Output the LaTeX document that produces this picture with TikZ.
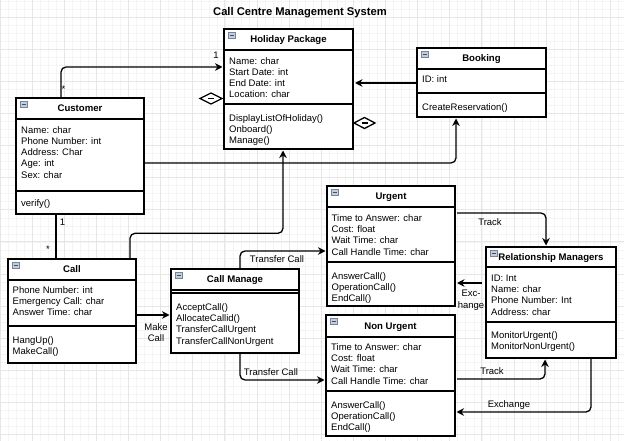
\documentclass[tikz,border=0pt]{standalone}
\usepackage{fontspec}
\setmainfont{Liberation Sans}
\usetikzlibrary{arrows.meta,calc}
\definecolor{gmin}{HTML}{F4F4F4}
\definecolor{gmaj}{HTML}{E6E6E6}
\definecolor{iconfill}{HTML}{C3CEDC}
\definecolor{iconline}{HTML}{74849A}

\newcommand\umlclass[8]{%
  \node[cls, minimum width=#4-#2, minimum height=#5-#3] (#1) at (#2,#3) {};
  \draw[line width=1.4pt] (#2,#6) -- (#4,#6);
  \draw[line width=1.4pt] (#2,#7) -- (#4,#7);
  \node[ttl] (#1-title) at ({(#2+#4)/2},{(#3+#6)/2+3.4}) {#8};
  \draw[fill=iconfill, draw=iconline, line width=0.4pt] (#2+4,#3+3) rectangle ++(7,6);
  \draw[iconline!60!black, line width=0.6pt] (#2+5.5,#3+6) -- ++(4,0);
}
\newcommand\ulines[4]{%
  \foreach \t [count=\i from 0] in {#4} {\node[txt] (#1-\i) at (#2,{#3+3.4+\i*11.2}) {\t};}%
}

\begin{document}
\begin{tikzpicture}[x=1pt,y=-1pt,
  cls/.style={draw, line width=1.4pt, anchor=north west, inner sep=0pt, outer sep=0pt, rectangle, fill=white},
  conn/.style={line width=1.3pt, rounded corners=5pt},
  arr/.style={conn, -{Stealth[length=7.5pt,width=7.5pt]}},
  txt/.style={font=\fontsize{9.5}{11.3}\selectfont, inner sep=0pt, anchor=base west},
  ttl/.style={font=\bfseries\fontsize{9.6}{11}\selectfont, inner sep=0pt, anchor=base},
  lbl/.style={font=\fontsize{9.5}{11}\selectfont, inner sep=0pt, anchor=base}]
\useasboundingbox (0,0) rectangle (624,441);
\fill[white] (0,0) rectangle (624,441);
% grid
\foreach \k in {0,...,78} \draw[gmin, line width=0.5pt] ({\k*8.03},0) -- ({\k*8.03},441);
\foreach \k in {0,...,54} \draw[gmin, line width=0.5pt] (0,{0.94+\k*8.03}) -- (624,{0.94+\k*8.03});
\foreach \k in {0,...,19} \draw[gmaj, line width=0.7pt] ({\k*32.12},0) -- ({\k*32.12},441);
\foreach \k in {0,...,13} \draw[gmaj, line width=0.7pt] (0,{17+\k*32.12}) -- (624,{17+\k*32.12});

\node[font=\bfseries\fontsize{11.2}{13}\selectfont, inner sep=0pt, anchor=base] (title) at (300,16) {Call Centre Management System};

% classes
\umlclass{hol}{224}{29}{353}{149}{50}{104}{Holiday Package}
\ulines{hol-a}{229}{61}{Name: char, Start Date: int, End Date: int, Location: char}
\ulines{hol-m}{229}{118}{DisplayListOfHoliday(), Onboard(), Manage()}

\umlclass{book}{417}{48}{546}{117}{69}{93}{Booking}
\ulines{book-a}{422}{79}{ID: int}
\ulines{book-m}{422}{107}{CreateReservation()}

\umlclass{cust}{16}{98}{144}{214}{119}{191}{Customer}
\ulines{cust-a}{21}{130}{Name: char, Phone Number: int, Address: Char, Age: int, Sex: char}
\ulines{cust-m}{21}{203}{verify()}

\umlclass{call}{8}{259}{136}{363}{280}{326}{Call}
\ulines{call-a}{12.5}{290}{Phone Number: int, Emergency Call: char, Answer Time: char}
\ulines{call-m}{12.5}{340}{HangUp(), MakeCall()}

\umlclass{cm}{171}{269}{299}{353}{290}{293}{Call Manage}
\ulines{cm-m}{176}{307}{AcceptCall(), AllocateCallid(), TransferCallUrgent, TransferCallNonUrgent}

\umlclass{urg}{327}{186}{455}{306}{207}{262}{Urgent}
\ulines{urg-a}{331.5}{218}{Time to Answer: char, Cost: float, Wait Time: char, Call Handle Time: char}
\ulines{urg-m}{331.5}{276}{AnswerCall(), OperationCall(), EndCall()}

\umlclass{nu}{326}{315}{455}{436}{337}{391}{Non Urgent}
\ulines{nu-a}{331}{347}{Time to Answer: char, Cost: float, Wait Time: char, Call Handle Time: char}
\ulines{nu-m}{331}{405}{AnswerCall(), OperationCall(), EndCall()}

\umlclass{rm}{486}{247}{616}{358}{267}{322}{Relationship Managers}
\ulines{rm-a}{491}{278}{ID: Int, Name: char, Phone Number: Int, Address: char}
\ulines{rm-m}{491}{335}{MonitorUrgent(), MonitorNonUrgent()}

% connectors
\draw[arr] ($(cust.north west)+(45,-0.7)$) |- ($(hol.north west)+(-1.5,38)$);
\draw[arr] ($(cust.north east)+(0.7,65)$) -| ($(book.south west)+(39,1.5)$);
\draw[arr] ($(call.north west)+(122,-0.7)$) -- ++(0,-25) -| ($(hol.south west)+(59,1.5)$);
\draw[conn] ($(cust.south west)+(40,0.7)$) -- ($(call.north west)+(48,-0.7)$);
\draw[arr] ($(book.north west)+(-0.7,35)$) -- ($(hol.north east)+(2,54)$);
\draw[arr] ($(call.north east)+(0.7,56)$) -- ($(cm.north west)+(-1.5,46)$);
\draw[arr] ($(cm.north west)+(69,-0.7)$) |- ($(urg.north west)+(-1.5,65)$);
\draw[arr] ($(cm.south west)+(69,0.7)$) |- ($(nu.north west)+(-1.5,65)$);
\draw[arr] ($(urg.north east)+(2,27)$) -| ($(rm.north west)+(60,-1.5)$);
\draw[arr] ($(rm.north west)+(-4,36)$) -- ($(urg.north east)+(2,97)$);
\draw[arr] ($(nu.north east)+(2,64)$) -| ($(rm.south west)+(59,1.5)$);
\draw[arr] ($(rm.south west)+(105,0.7)$) |- ($(nu.north east)+(1.5,97)$);

% aggregation diamonds
\draw[line width=1.3pt, fill=white] (200,98.5) -- (211,93) -- (222,98.5) -- (211,104) -- cycle;
\draw[line width=1.1pt] (208,98.5) -- (214,98.5);
\draw[line width=1.3pt, fill=white] (354,123) -- (364.5,117.5) -- (375,123) -- (364.5,128.5) -- cycle;
\draw[line width=1.1pt] (361.5,123) -- (367.5,123);

% labels
\node[lbl] (m1) at (216,58.4) {1};
\node[lbl] (m2) at (63.5,93) {*};
\node[lbl] (m3) at (62.5,225.4) {1};
\node[lbl] (m4) at (48,252) {*};
\node[lbl] (make1) at (156,330.4) {Make};
\node[lbl] (make2) at (156,341.6) {Call};
\node[lbl] (tc1) at (277,262.4) {Transfer Call};
\node[lbl] (tc2) at (271,375.4) {Transfer Call};
\node[lbl] (tr1) at (490,225.4) {Track};
\node[lbl] (ex1) at (471,296.4) {Exc-};
\node[lbl] (ex2) at (471,308.4) {hange};
\node[lbl] (tr2) at (492,374.4) {Track};
\node[lbl] (ex3) at (509,407.4) {Exchange};
\end{tikzpicture}
\end{document}
